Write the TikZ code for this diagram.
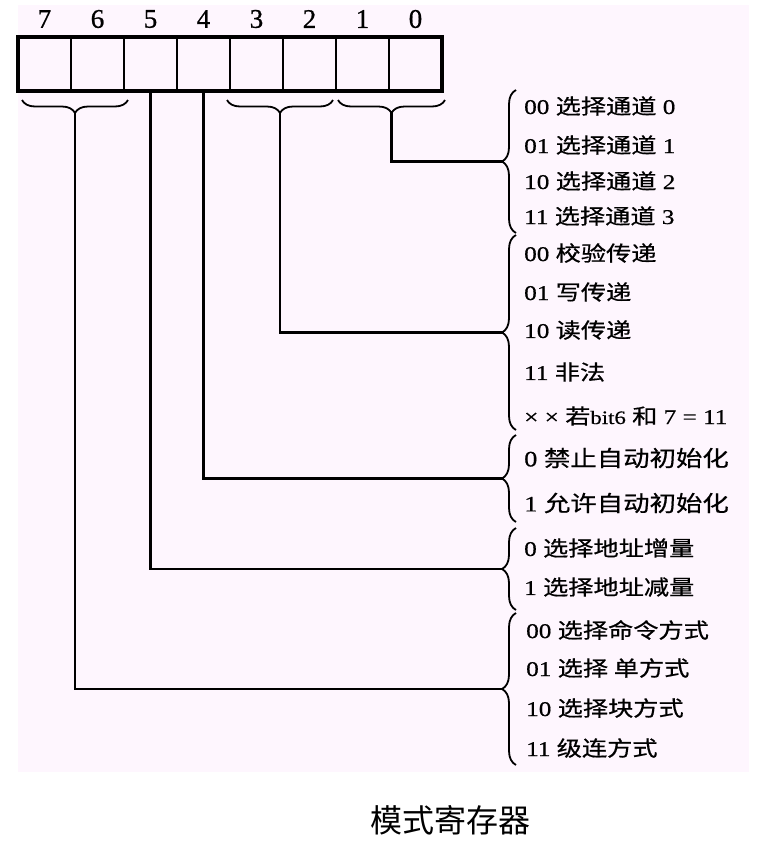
\documentclass[tikz,border=0pt]{standalone}
\usepackage{fontspec}
\setmainfont{Liberation Serif}
\newfontfamily\cjk[FakeStretch=1.2,FakeBold=0.6]{Noto Sans CJK SC}
\newfontfamily\cjkcap{Noto Sans CJK SC}
\newfontfamily\serw[FakeStretch=1.2,FakeBold=0.6]{Liberation Serif}
\newfontfamily\sernum[FakeBold=0.8]{Liberation Serif}
\usetikzlibrary{decorations.pathreplacing}
\definecolor{bgpink}{RGB}{254,246,254}
\newcommand{\zh}[1]{{\cjk #1}}
\begin{document}
\begin{tikzpicture}[x=1pt,y=-1pt,
  cell/.style={draw, line width=2.8pt, minimum width=53pt, minimum height=54pt, inner sep=0pt, outer sep=0pt},
  bitnum/.style={font=\sernum\fontsize{27}{27}\selectfont, inner sep=0pt},
  conn/.style={line width=2.2pt},
  hbrace/.style={decorate, decoration={brace, amplitude=13pt}, line width=1.8pt},
  vbrace/.style={decorate, decoration={brace, amplitude=14pt}, line width=1.8pt},
  item/.style={anchor=west, inner sep=0pt, font=\serw\fontsize{21}{21}\selectfont},
  bigitem/.style={item, font=\serw\fontsize{22}{22}\selectfont},
  capt/.style={font=\cjkcap\fontsize{32}{32}\selectfont, inner sep=0pt}
]
\useasboundingbox (0,0) rectangle (756,847);
\fill[bgpink] (18,5) rectangle (749,772);

% register cells
\foreach \b/\x in {7/44.5,6/97.5,5/150.5,4/203.5,3/256.5,2/309.5,1/362.5,0/415.5}{
  \node[cell] (b\b) at (\x,64) {};
  \node[bitnum] (n\b) at (\x,19) {\b};
}
\draw[line width=3.6pt] (b7.north west) rectangle (b0.south east);

% braces under the register
\draw[hbrace] (128,100) -- (22,100);
\draw[hbrace] (333,100) -- (227,100);
\draw[hbrace] (445,100) -- (338,100);
\coordinate (tA) at (75,113);
\coordinate (tB) at (280,113);
\coordinate (tC) at (391.5,113);

% right braces
\draw[vbrace] (516,233) -- (516,90);
\draw[vbrace] (516,430) -- (516,235);
\draw[vbrace] (516,522) -- (516,435);
\draw[vbrace] (516,610) -- (516,528);
\draw[vbrace] (516,765) -- (516,613);
\coordinate (rA) at (502,161.5);
\coordinate (rB) at (502,332.5);
\coordinate (rC) at (502,478.5);
\coordinate (rD) at (502,569);
\coordinate (rE) at (502,689);

% connectors
\draw[conn] (tC) |- (rA);
\draw[conn] (tB) |- (rB);
\draw[conn] (b4.south) |- (rC);
\draw[conn] (b5.south) |- (rD);
\draw[conn] (tA) |- (rE);

% texts
\node[item] (a0) at (524,106) {00 \zh{选择通道} 0};
\node[item] (a1) at (524,145) {01 \zh{选择通道} 1};
\node[item] (a2) at (524,181) {10 \zh{选择通道} 2};
\node[item] (a3) at (524,216) {11 \zh{选择通道} 3};
\node[item] (c0) at (524,253) {00 \zh{校验传递}};
\node[item] (c1) at (524,292) {01 \zh{写传递}};
\node[item] (c2) at (524,330) {10 \zh{读传递}};
\node[item] (c3) at (524,372) {11 \zh{非法}};
\node[item] (c4) at (524,416) {× × \zh{若}{\fontsize{19}{19}\selectfont bit6} \zh{和} 7 = 11};
\node[bigitem] (d0) at (524,458) {0 \zh{禁止自动初始化}};
\node[bigitem] (d1) at (524,503) {1 \zh{允许自动初始化}};
\node[item] (e0) at (524,548) {0 \zh{选择地址增量}};
\node[item] (e1) at (524,587) {1 \zh{选择地址减量}};
\node[item] (f0) at (526,630) {00 \zh{选择命令方式}};
\node[item] (f1) at (526,668) {01 \zh{选择 单方式}};
\node[item] (f2) at (526,708) {10 \zh{选择块方式}};
\node[item] (f3) at (526,748) {11 \zh{级连方式}};

\node[capt] (cap) at (450,820) {模式寄存器};
\end{tikzpicture}
\end{document}
